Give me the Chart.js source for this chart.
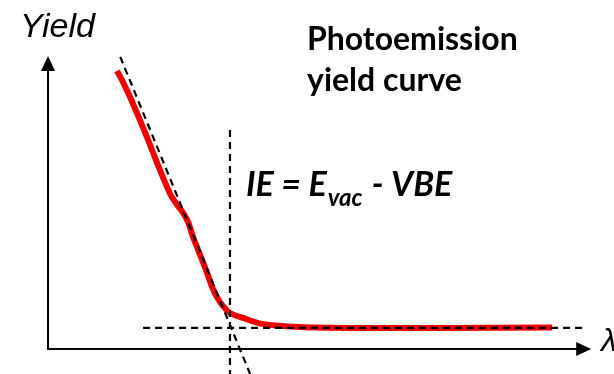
<!DOCTYPE html>
<html>
<head>
<meta charset="utf-8">
<script src="https://cdn.jsdelivr.net/npm/chart.js@4/dist/chart.umd.min.js"></script>
<style>
  html, body { margin: 0; padding: 0; background: #fff; }
  #wrap { width: 614px; height: 374px; }
</style>
</head>
<body>
<div id="wrap"><canvas id="yieldChart" width="614" height="374"></canvas></div>
<script>
// photon energy axis (arbitrary units, 0 = origin, 100 = arrow tip)
var energy = [12.7, 13.8, 15.1, 16.9, 18.8, 20.6, 22.5, 23.8, 24.9, 25.8, 26.7, 28.0, 29.3, 30.2, 31.1, 32.2, 33.5, 35.9, 39.6, 46.4, 55.6, 74.0, 92.8];
// measured photoemission yield (arbitrary units)
var yieldValues = [94.9, 91.1, 86.0, 78.2, 69.6, 61.1, 52.9, 49.1, 46.4, 43.3, 38.2, 32.1, 25.9, 21.2, 17.7, 14.7, 12.3, 10.6, 8.5, 7.5, 7.2, 7.2, 7.3];

// linear fit of the rising edge
var tangentX = [13.3, 37.2];
var tangentY = [99.7, -8.5];
// background level
var baseX = [17.5, 98.9];
var baseY = [7.2, 7.2];
// threshold marker
var thresholdX = [33.5, 33.5];
var thresholdY = [74.7, -8.6];

var xRange = [-8.84, 104.2];
var yRange = [-8.53, 119.1];

function pts(xs, ys) {
    return xs.map(function (x, i) { return { x: x, y: ys[i] }; });
}

function dashed(xs, ys) {
    return {
        data: pts(xs, ys),
        showLine: true,
        borderColor: '#000',
        borderWidth: 2.2,
        borderDash: [7, 5],
        pointRadius: 0,
        order: 1
    };
}

// axis arrows and annotations
var axesPlugin = {
    id: 'axes',
    beforeDatasetsDraw: function (chart) {
        var ctx = chart.ctx;
        var sx = chart.scales.x, sy = chart.scales.y;
        var x0 = sx.getPixelForValue(0), y0 = sy.getPixelForValue(0);
        var xTip = sx.getPixelForValue(100), yTip = sy.getPixelForValue(100);
        ctx.save();
        ctx.strokeStyle = '#000';
        ctx.fillStyle = '#000';
        ctx.lineWidth = 2;
        ctx.beginPath();
        ctx.moveTo(x0, yTip + 10);
        ctx.lineTo(x0, y0);
        ctx.lineTo(xTip - 10, y0);
        ctx.stroke();
        ctx.beginPath();
        ctx.moveTo(x0, yTip);
        ctx.lineTo(x0 - 7, yTip + 15);
        ctx.lineTo(x0 + 7, yTip + 15);
        ctx.closePath();
        ctx.fill();
        ctx.beginPath();
        ctx.moveTo(xTip, y0);
        ctx.lineTo(xTip - 15, y0 - 7);
        ctx.lineTo(xTip - 15, y0 + 7);
        ctx.closePath();
        ctx.fill();
        ctx.restore();
    },
    afterDraw: function (chart) {
        var ctx = chart.ctx;
        ctx.save();
        ctx.fillStyle = '#000';
        ctx.textBaseline = 'alphabetic';

        ctx.font = 'italic 34px "Liberation Sans", Arial, sans-serif';
        ctx.fillText('Yield', 20, 37);
        ctx.font = 'italic 32px "Liberation Sans", Arial, sans-serif';
        ctx.fillText('λ', 601, 351);

        ctx.font = 'bold 32px Lato, "Liberation Sans", sans-serif';
        ctx.fillText('Photoemission', 307, 50);
        ctx.fillText('yield curve', 307, 91);

        // IE = E_vac - VBE
        var big = 'italic bold 34px Lato, "Liberation Sans", sans-serif';
        var small = 'italic bold 24px Lato, "Liberation Sans", sans-serif';
        var x = 246;
        ctx.font = big;
        ctx.fillText('IE = E', x, 196);
        x += ctx.measureText('IE = E').width + 1;
        ctx.font = small;
        ctx.fillText('vac', x, 206);
        x += ctx.measureText('vac').width + 2;
        ctx.font = big;
        ctx.fillText(' - VBE', x, 196);
        ctx.restore();
    }
};

var chart = new Chart(document.getElementById('yieldChart'), {
    type: 'scatter',
    data: {
        datasets: [
            {
                data: pts(energy, yieldValues),
                showLine: true,
                borderColor: 'rgb(240,0,0)',
                borderWidth: 6,
                tension: 0.3,
                pointRadius: 0,
                order: 2
            },
            dashed(tangentX, tangentY),
            dashed(baseX, baseY),
            dashed(thresholdX, thresholdY)
        ]
    },
    options: {
        responsive: false,
        animation: false,
        layout: { padding: 0 },
        plugins: { legend: { display: false }, tooltip: { enabled: false } },
        scales: {
            x: { type: 'linear', display: false, min: xRange[0], max: xRange[1] },
            y: { type: 'linear', display: false, min: yRange[0], max: yRange[1] }
        }
    },
    plugins: [axesPlugin]
});
</script>
</body>
</html>
